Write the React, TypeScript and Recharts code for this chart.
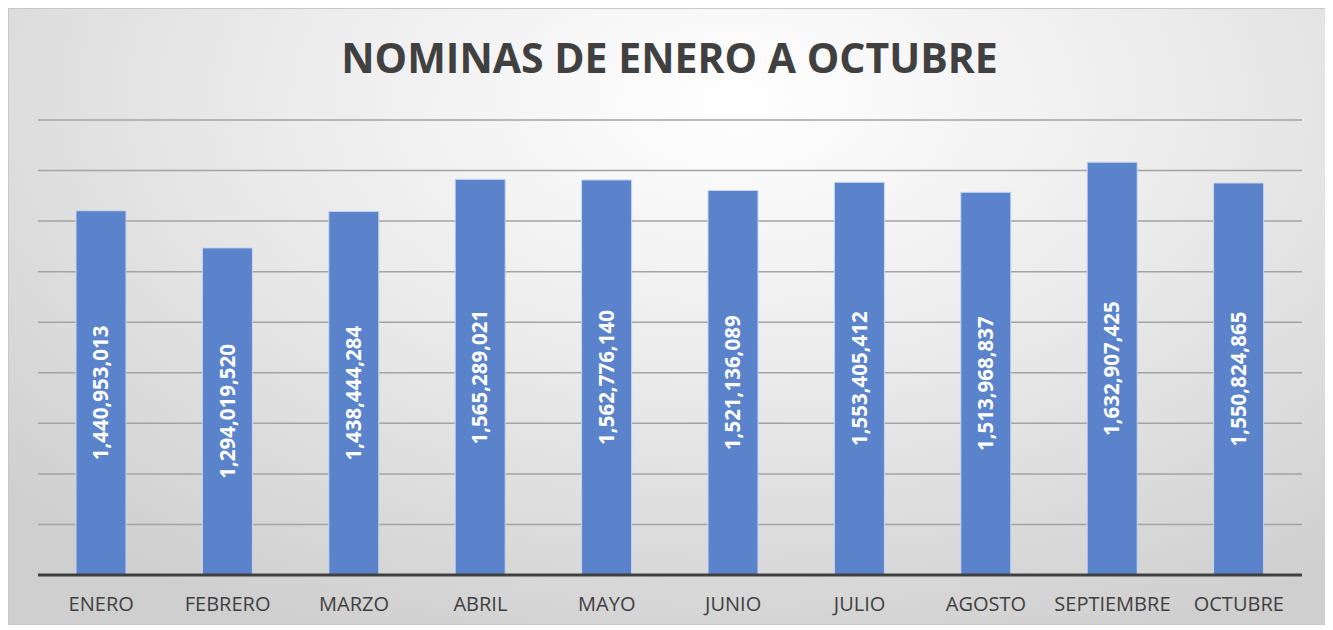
import React from 'react';
import { BarChart, Bar, XAxis, YAxis, CartesianGrid, LabelList } from 'recharts';

// Monthly payroll totals
const months = ['ENERO', 'FEBRERO', 'MARZO', 'ABRIL', 'MAYO', 'JUNIO', 'JULIO', 'AGOSTO', 'SEPTIEMBRE', 'OCTUBRE'];
const totals = [
  1440953013, 1294019520, 1438444284, 1565289021, 1562776140,
  1521136089, 1553405412, 1513968837, 1632907425, 1550824865,
];
const yTicks = [0, 200000000, 400000000, 600000000, 800000000, 1000000000, 1200000000, 1400000000, 1600000000, 1800000000];

const data = months.map((name, i) => ({ name, value: totals[i] }));

const fmt = (v: number) => v.toLocaleString('en-US');

const App: React.FC = () => {
  return (
    <div
      style={{
        position: 'relative',
        width: 1321,
        height: 615,
        border: '1px solid #c8c8c8',
        background: 'radial-gradient(ellipse 75% 95% at 55% 15%, #ffffff 0%, #ececec 45%, #cfcfcf 100%)',
        fontFamily: '"Open Sans", sans-serif',
      }}
    >
      <div
        style={{
          position: 'absolute',
          top: 20,
          left: 0,
          width: '100%',
          textAlign: 'center',
          fontSize: 41,
          fontWeight: 700,
          color: '#404040',
        }}
      >
        NOMINAS DE ENERO A OCTUBRE
      </div>
      <BarChart
        width={1321}
        height={615}
        data={data}
        margin={{ top: 111, right: 28, bottom: 19, left: 29 }}
      >
        <CartesianGrid vertical={false} stroke="#a3a3a3" strokeWidth={1.5} />
        <YAxis hide domain={[0, 1800000000]} ticks={yTicks} />
        <XAxis
          dataKey="name"
          axisLine={{ stroke: '#404040', strokeWidth: 3 }}
          tickLine={false}
          tick={{ fill: '#404040', fontSize: 20, fontFamily: '"Open Sans", sans-serif' }}
          tickMargin={16}
          interval={0}
        />
        <Bar dataKey="value" fill="#5a83cb" stroke="#c9d6ee" strokeWidth={1} barSize={50} isAnimationActive={false}>
          <LabelList
            dataKey="value"
            position="center"
            angle={-90}
            formatter={(v: any) => fmt(Number(v))}
            style={{ fill: '#ffffff', fontSize: 20.5, fontWeight: 700, fontFamily: '"Open Sans", sans-serif' }}
          />
        </Bar>
      </BarChart>
    </div>
  );
};

export default App;
